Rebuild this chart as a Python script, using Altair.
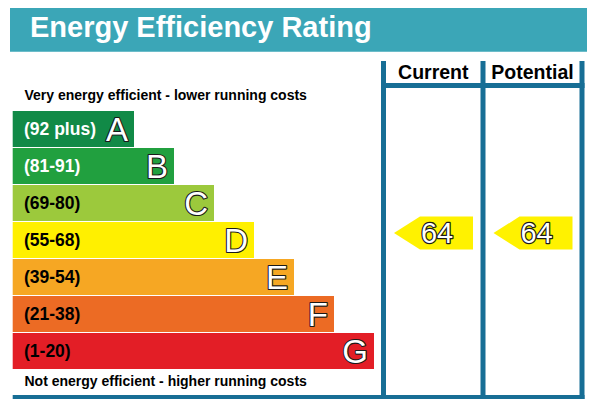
import altair as alt
import pandas as pd

TITLE = "Energy Efficiency Rating"
TOP_NOTE = "Very energy efficient - lower running costs"
BOTTOM_NOTE = "Not energy efficient - higher running costs"
COLUMNS = ["Current", "Potential"]

BANDS = ["A", "B", "C", "D", "E", "F", "G"]
RANGE_LABELS = ["(92 plus)", "(81-91)", "(69-80)", "(55-68)", "(39-54)", "(21-38)", "(1-20)"]
RANGE_LOW = [92, 81, 69, 55, 39, 21, 1]
RANGE_HIGH = [100, 91, 80, 68, 54, 38, 20]
RATINGS = [64, 64]  # current, potential

# styling
BAND_COLOURS = ["#118a47", "#21a03f", "#9cc93c", "#fff000", "#f6a723", "#ec6b24", "#e31e26"]
LABEL_INK = ["white", "white", "black", "black", "black", "black", "black"]
TEAL = "#3ba6b7"
LINE = "#176e95"
ARROW = "#fff200"
FONT = "Liberation Sans"

# layout in page pixels (page has an 8px margin)
BAR_LEFT = 12.7
BAR_TOP = 111
BAR_H = 36
BAR_STEP = 37
BAR_FIRST_END = 134
BAR_GROW = 40
COL_EDGES = [383.5, 483, 582]
LINE_W = 5

xs = alt.Scale(domain=[8, 587], nice=False, zero=False)
ys = alt.Scale(domain=[8, 399], nice=False, zero=False, reverse=True)


def X(f):
    return alt.X(f"{f}:Q", scale=xs, axis=None)


def Y(f):
    return alt.Y(f"{f}:Q", scale=ys, axis=None)


# bands
bars = pd.DataFrame({"band": BANDS, "label": RANGE_LABELS, "ink": LABEL_INK})
bars["x"] = BAR_LEFT
bars["x2"] = [BAR_FIRST_END + BAR_GROW * i for i in range(len(BANDS))]
bars["y"] = [BAR_TOP + BAR_STEP * i for i in range(len(BANDS))]
bars["y2"] = bars["y"] + BAR_H
bars["yc"] = bars["y"] + BAR_H / 2
bars["label_x"] = 24
bars["label_y"] = bars["yc"] + 6
bars["letter_x"] = bars["x2"] - 6
bars["letter_y"] = bars["yc"] + 11.8


def rating_y(r):
    for i, (lo, hi) in enumerate(zip(RANGE_LOW, RANGE_HIGH)):
        if lo <= r <= hi:
            frac = (hi - r) / (hi - lo)
            return BAR_TOP + BAR_STEP * i + frac * BAR_H
    return BAR_TOP


# arrows
arrow_rows = []
arrow_text = []
for c, r in enumerate(RATINGS):
    tip = COL_EDGES[c] + 10.5
    yc = rating_y(r)
    arrow_rows += [
        {"col": c, "x": tip, "y": yc, "y2": yc},
        {"col": c, "x": tip + 26, "y": yc - 16.5, "y2": yc + 16.5},
        {"col": c, "x": tip + 79, "y": yc - 16.5, "y2": yc + 16.5},
    ]
    arrow_text.append({"x": tip + 43, "y": yc + 10, "text": str(r)})
arrows = pd.DataFrame(arrow_rows)
arrow_text = pd.DataFrame(arrow_text)

# frame lines
right = COL_EDGES[-1] + LINE_W / 2
bottom = 397.5
lines = pd.DataFrame(
    [{"x": e, "x2": e, "y": 61, "y2": bottom + LINE_W / 2} for e in COL_EDGES]
    + [
        {"x": COL_EDGES[0] - LINE_W / 2, "x2": right, "y": 85.5, "y2": 85.5},
        {"x": BAR_LEFT, "x2": right, "y": bottom, "y2": bottom},
    ]
)

headers = pd.DataFrame(
    {
        "text": COLUMNS,
        "x": [(COL_EDGES[i] + COL_EDGES[i + 1]) / 2 for i in range(len(COLUMNS))],
        "y": 79,
    }
)
notes = pd.DataFrame({"text": [TOP_NOTE, BOTTOM_NOTE], "x": 24.5, "y": [100, 385.5]})
title_box = pd.DataFrame({"x": [10], "x2": [595], "y": [4], "y2": [51.7]})
title_text = pd.DataFrame({"text": [TITLE], "x": [30], "y": [37]})

banner = alt.Chart(title_box).mark_rect(color=TEAL, clip=True).encode(
    x=X("x"), x2="x2", y=Y("y"), y2="y2"
)
banner_text = alt.Chart(title_text).mark_text(
    align="left", baseline="alphabetic", font=FONT, fontSize=29,
    fontWeight="bold", color="white"
).encode(x=X("x"), y=Y("y"), text="text")

band_rects = alt.Chart(bars).mark_rect().encode(
    x=X("x"), x2="x2", y=Y("y"), y2="y2",
    color=alt.Color("band:N", scale=alt.Scale(domain=BANDS, range=BAND_COLOURS), legend=None),
)
range_text = alt.Chart(bars).mark_text(
    align="left", baseline="alphabetic", font=FONT, fontSize=17.5, fontWeight="bold"
).encode(
    x=X("label_x"), y=Y("label_y"), text="label",
    color=alt.Color("ink:N", scale=None),
)


def outlined(df, x, y, text, align, size, halo):
    # dark halo drawn first, white glyph on top, so the outline sits outside
    enc = dict(x=X(x), y=Y(y), text=text)
    base = dict(align=align, baseline="alphabetic", font=FONT, fontSize=size)
    under = alt.Chart(df).mark_text(
        fill="#1a1a1a", stroke="#1a1a1a", strokeWidth=halo, strokeJoin="round", **base
    ).encode(**enc)
    over = alt.Chart(df).mark_text(fill="white", **base).encode(**enc)
    return under + over


letters = outlined(bars, "letter_x", "letter_y", "band", "right", 33, 2.2)

frame = alt.Chart(lines).mark_rule(color=LINE, strokeWidth=LINE_W, clip=True).encode(
    x=X("x"), x2="x2", y=Y("y"), y2="y2"
)
header_text = alt.Chart(headers).mark_text(
    align="center", baseline="alphabetic", font=FONT, fontSize=19.5,
    fontWeight="bold", color="black"
).encode(x=X("x"), y=Y("y"), text="text")
note_text = alt.Chart(notes).mark_text(
    align="left", baseline="alphabetic", font=FONT, fontSize=14,
    fontWeight="bold", color="black"
).encode(x=X("x"), y=Y("y"), text="text")

arrow_shapes = alt.Chart(arrows).mark_area(color=ARROW).encode(
    x=X("x"), y=Y("y"), y2="y2", detail="col:N"
)
arrow_labels = outlined(arrow_text, "x", "y", "text", "center", 29, 2.4)

chart = (
    alt.layer(
        banner, banner_text, band_rects, range_text, letters,
        frame, header_text, note_text, arrow_shapes, arrow_labels
    )
    .properties(width=579, height=391, padding=0)
    .configure_view(strokeWidth=0)
)

chart.save("out.html", embed_options={"renderer": "svg", "actions": False})
